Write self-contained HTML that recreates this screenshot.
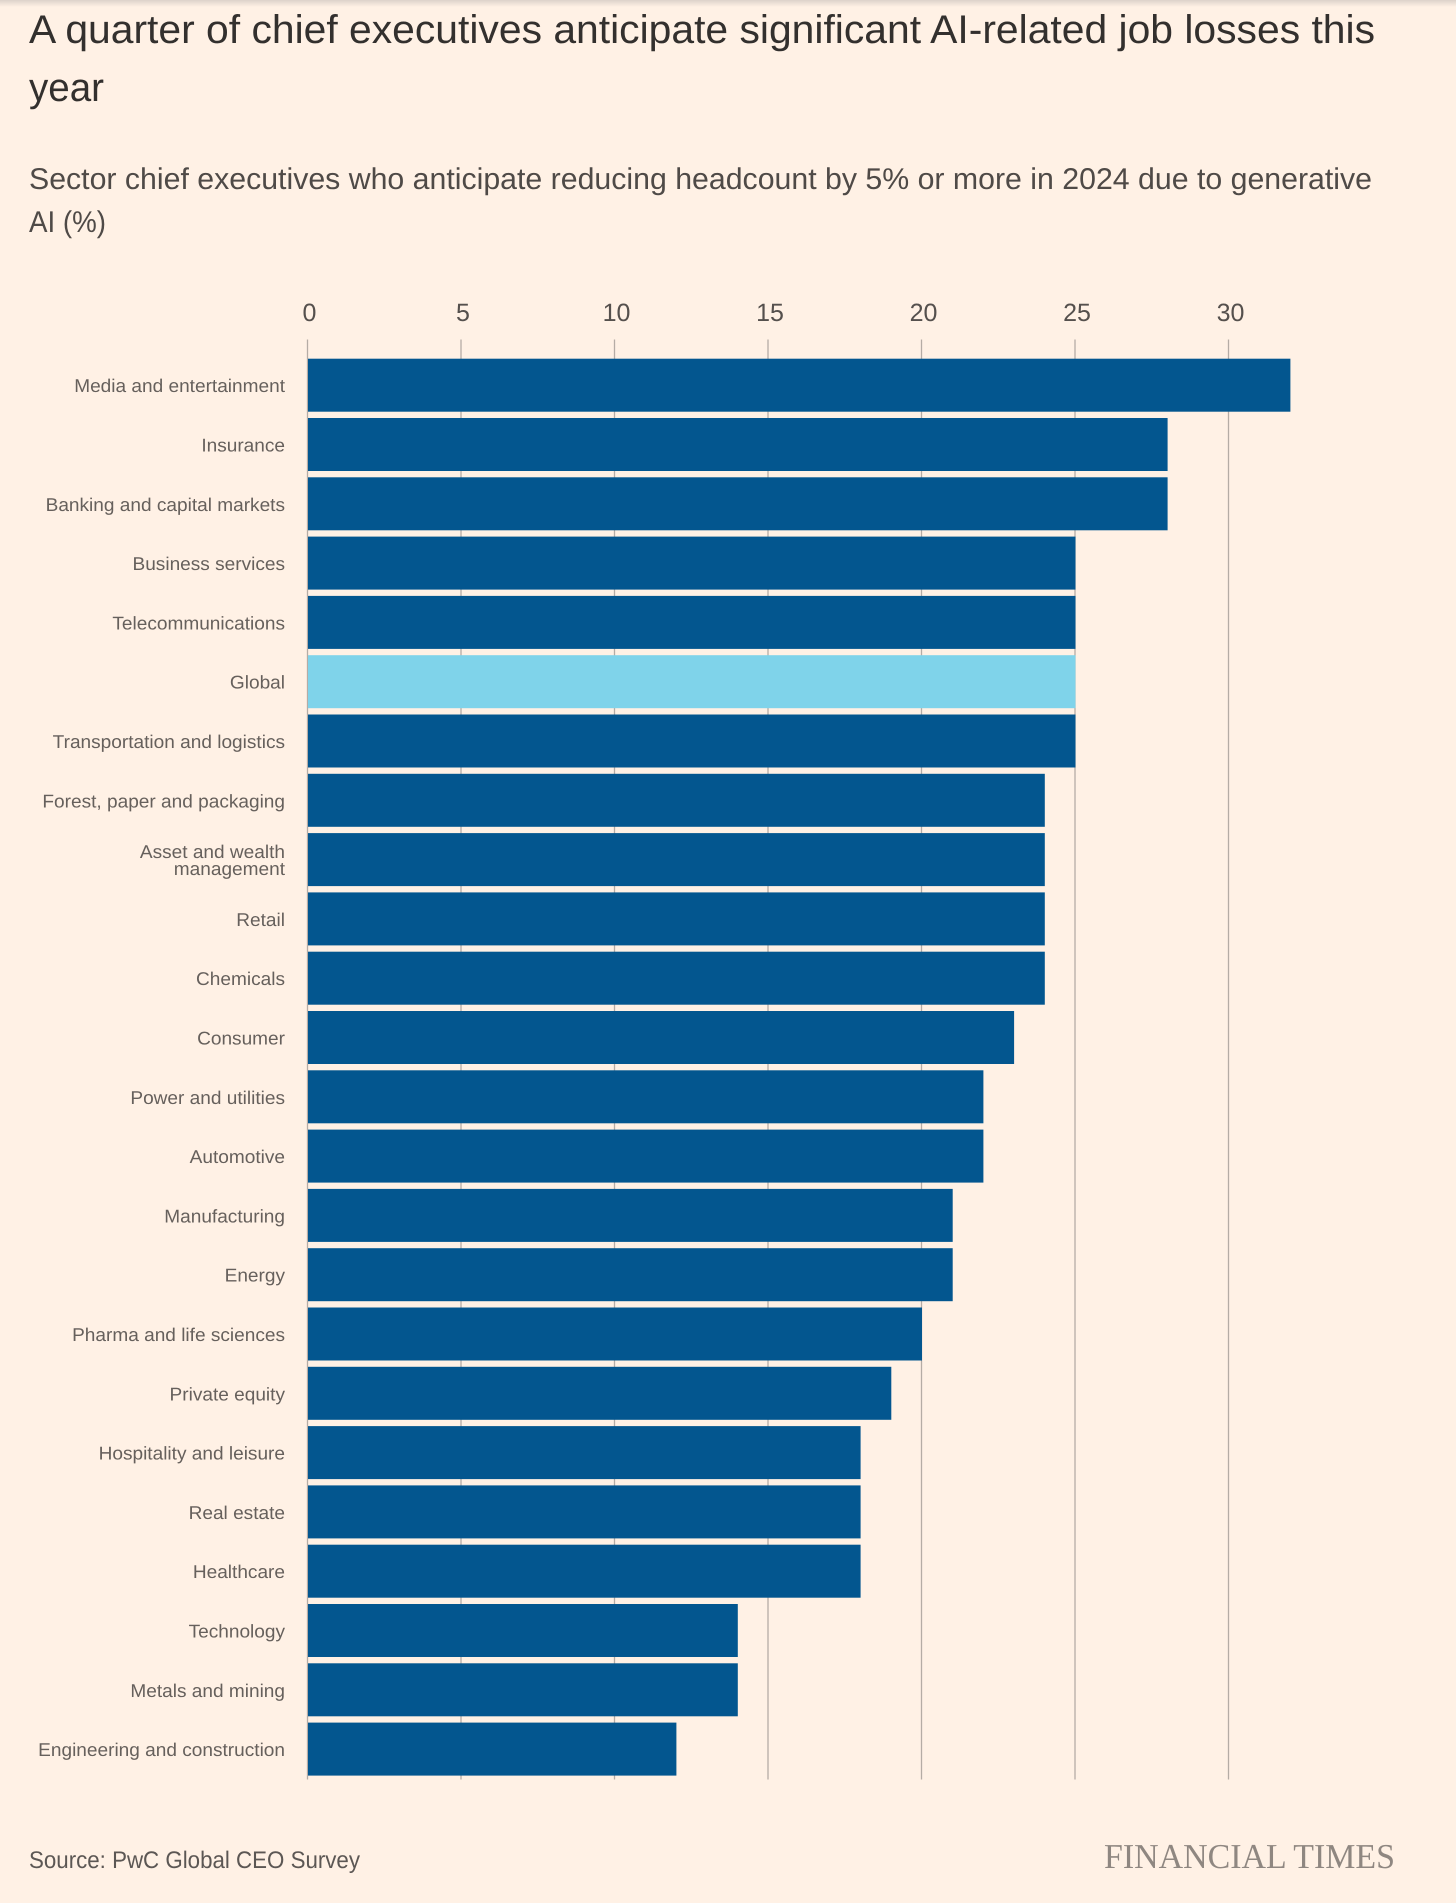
<!DOCTYPE html>
<html lang="en">
<head>
<meta charset="utf-8">
<title>A quarter of chief executives anticipate significant AI-related job losses this year</title>
<style>
html,body{margin:0;padding:0;background:#fff1e5;width:1456px;height:1903px;overflow:hidden}
svg{display:block;font-family:"Liberation Sans",sans-serif}
text{text-rendering:geometricPrecision}
</style>
</head>
<body>
<svg id="chart" width="1456" height="1903" viewBox="0 0 1456 1903" xmlns="http://www.w3.org/2000/svg">
  <defs>
    <linearGradient id="topShade" x1="0" y1="0" x2="0" y2="1">
      <stop offset="0" stop-color="#dcd2ca"/>
      <stop offset="1" stop-color="#fff1e5"/>
    </linearGradient>
  </defs>
  <rect width="1456" height="1903" fill="#fff1e5"/>
  <rect width="1456" height="7" fill="url(#topShade)"/>
  <text x="29" y="43" font-size="40" fill="#33302e" textLength="1346" lengthAdjust="spacingAndGlyphs">A quarter of chief executives anticipate significant AI-related job losses this</text>
  <text x="29" y="101" font-size="40" fill="#33302e" textLength="75" lengthAdjust="spacingAndGlyphs">year</text>
  <text x="29" y="189" font-size="30" fill="#4f4a47" textLength="1343" lengthAdjust="spacingAndGlyphs">Sector chief executives who anticipate reducing headcount by 5% or more in 2024 due to generative</text>
  <text x="29" y="232" font-size="30" fill="#4f4a47" textLength="77" lengthAdjust="spacingAndGlyphs">AI (%)</text>
  <g id="grid"></g>
  <g id="xlabels"></g>
  <g id="bars"></g>
  <g id="ylabels"></g>
  <text x="29" y="1868" font-size="24" fill="#5c5754" textLength="331" lengthAdjust="spacingAndGlyphs">Source: PwC Global CEO Survey</text>
  <text x="1104" y="1868" font-family="'Liberation Serif',serif" font-size="35" fill="#8f8781" textLength="291" lengthAdjust="spacingAndGlyphs">FINANCIAL TIMES</text>
</svg>
<script>
const categories = ["Media and entertainment","Insurance","Banking and capital markets","Business services","Telecommunications","Global","Transportation and logistics","Forest, paper and packaging","Asset and wealth|management","Retail","Chemicals","Consumer","Power and utilities","Automotive","Manufacturing","Energy","Pharma and life sciences","Private equity","Hospitality and leisure","Real estate","Healthcare","Technology","Metals and mining","Engineering and construction"];
const values = [32,28,28,25,25,25,25,24,24,24,24,23,22,22,21,21,20,19,18,18,18,14,14,12];
const tickValues = [0,5,10,15,20,25,30];
const highlightCategory = "Global";

const NS = "http://www.w3.org/2000/svg";
const X0 = 308, UNIT = 30.7;
const ROW0 = 358.7, PITCH = 59.3, BAR_H = 53;
function xScale(v){ return X0 + v * UNIT; }
function yScale(i){ return ROW0 + i * PITCH; }
function make(tag, parent, attrs){
  const el = document.createElementNS(NS, tag);
  for (const k in attrs) el.setAttribute(k, attrs[k]);
  parent.appendChild(el);
  return el;
}
const grid = document.getElementById("grid");
const xlabels = document.getElementById("xlabels");
const bars = document.getElementById("bars");
const ylabels = document.getElementById("ylabels");

tickValues.forEach(function(t){
  const line = make("line", grid, {x1:xScale(t)-0.5, x2:xScale(t)-0.5, y1:339.5, y2:1779.5, stroke:"#b5aca5", "stroke-width":1.3});
  
  
  const lab = make("text", xlabels, {x:xScale(t)+1.5, y:321, "font-size":25, fill:"#55504d", "text-anchor":"middle"});
  
  
  lab.textContent = t;
});

values.forEach(function(v, i){
  const bar = make("rect", bars, {x:xScale(0), y:yScale(i), width:xScale(v)-xScale(0), height:BAR_H, fill: categories[i]===highlightCategory ? "#7fd3ea" : "#03568f"});
  
  
  const lines = categories[i].split("|");
  const center = yScale(i) + BAR_H/2;
  lines.forEach(function(s, j){
    const base = lines.length === 1 ? center + 7 : center - 1.7 + j * 17.3;
    const t = make("text", ylabels, {transform:"translate(285,"+base+") scale(1.03,1)", "font-size":18.5, fill:"#66605c", "text-anchor":"end"});
    
    
    t.textContent = s;
  });
});
</script>
</body>
</html>
